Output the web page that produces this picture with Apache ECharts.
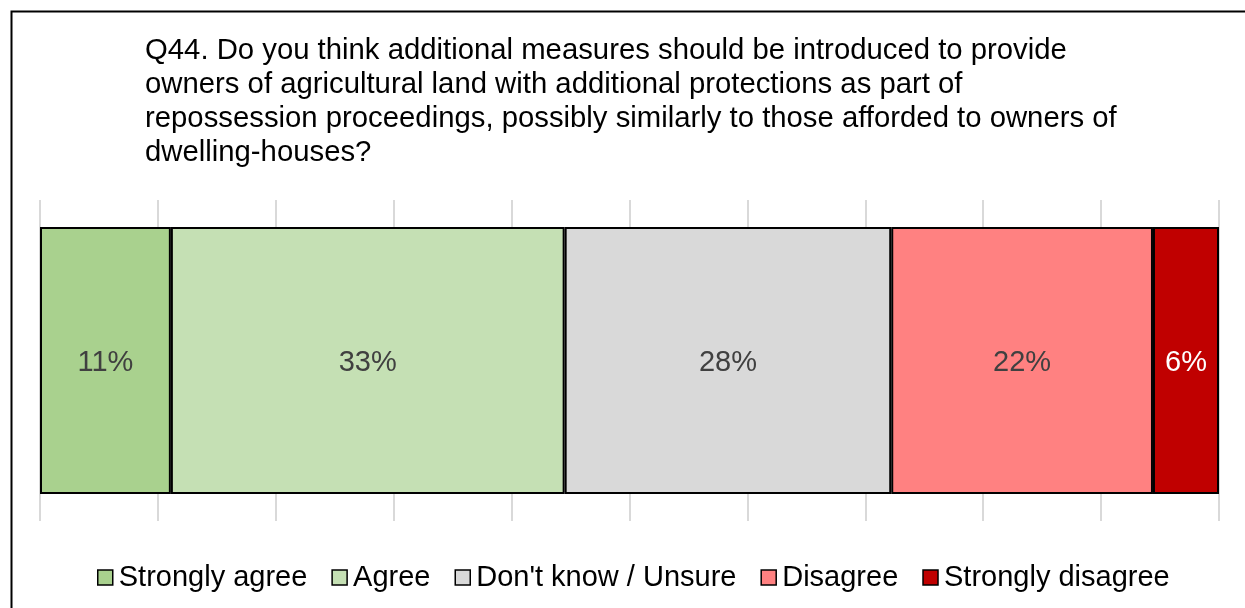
<!DOCTYPE html>
<html>
<head>
<meta charset="utf-8">
<script src="https://cdn.jsdelivr.net/npm/echarts@6/dist/echarts.min.js"></script>
<style>
html,body{margin:0;padding:0;background:#fff;}
#c{width:1245px;height:608px;}
</style>
</head>
<body>
<div id="c"></div>
<script>
const titleText = "Q44. Do you think additional measures should be introduced to provide\nowners of agricultural land with additional protections as part of\nrepossession proceedings, possibly similarly to those afforded to owners of\ndwelling-houses?";
const categories = ["Q44"];
const seriesNames = ["Strongly agree", "Agree", "Don't know / Unsure", "Disagree", "Strongly disagree"];
const seriesValues = [11.1, 33.4, 27.7, 22.2, 5.6];
const seriesColors = ["#a9d18e", "#c5e0b4", "#d9d9d9", "#ff8181", "#c00000"];
const labelColors = ["#404040", "#404040", "#404040", "#404040", "#ffffff"];

const chart = echarts.init(document.getElementById('c'), null, {renderer: 'canvas'});
const FONT = 'Liberation Sans, Arial, sans-serif';

const series = seriesNames.map((name, i) => ({
  name: name,
  type: 'bar',
  stack: 'total',
  barWidth: 267,
  data: [seriesValues[i]],
  itemStyle: { color: seriesColors[i], borderColor: '#000', borderWidth: 2 },
  label: {
    show: true,
    position: 'inside',
    formatter: p => Math.round(p.value) + '%',
    color: labelColors[i],
    fontSize: 29,
    fontFamily: FONT,
    offset: [0, 2]
  },
  emphasis: { disabled: true }
}));

chart.setOption({
  animation: false,
  backgroundColor: '#fff',
  title: {
    text: titleText,
    left: 140,
    top: 29,
    textStyle: { fontSize: 29.3, fontWeight: 'normal', color: '#000', fontFamily: FONT, lineHeight: 34 }
  },
  legend: {
    data: seriesNames,
    top: 558,
    left: 92,
    icon: 'rect',
    itemWidth: 15,
    itemHeight: 15,
    itemGap: 24,
    selectedMode: false,
    itemStyle: { borderColor: '#000', borderWidth: 1.5 },
    textStyle: { fontSize: 29, color: '#000', fontFamily: FONT, padding: [0, 0, 0, 1] }
  },
  grid: { left: 40, right: 26, top: 200, bottom: 87, containLabel: false },
  xAxis: {
    type: 'value',
    min: 0,
    max: 100,
    interval: 10,
    axisLabel: { show: false },
    axisLine: { show: false },
    axisTick: { show: false },
    splitLine: { show: true, lineStyle: { color: '#d9d9d9', width: 2 } }
  },
  yAxis: {
    type: 'category',
    data: categories,
    axisLabel: { show: false },
    axisLine: { show: false },
    axisTick: { show: false }
  },
  graphic: [{
    type: 'polyline',
    shape: { points: [[11.5, 608], [11.5, 11.5], [1245, 11.5]] },
    style: { stroke: '#000', lineWidth: 2, fill: null },
    silent: true
  }],
  series: series
});
</script>
</body>
</html>
